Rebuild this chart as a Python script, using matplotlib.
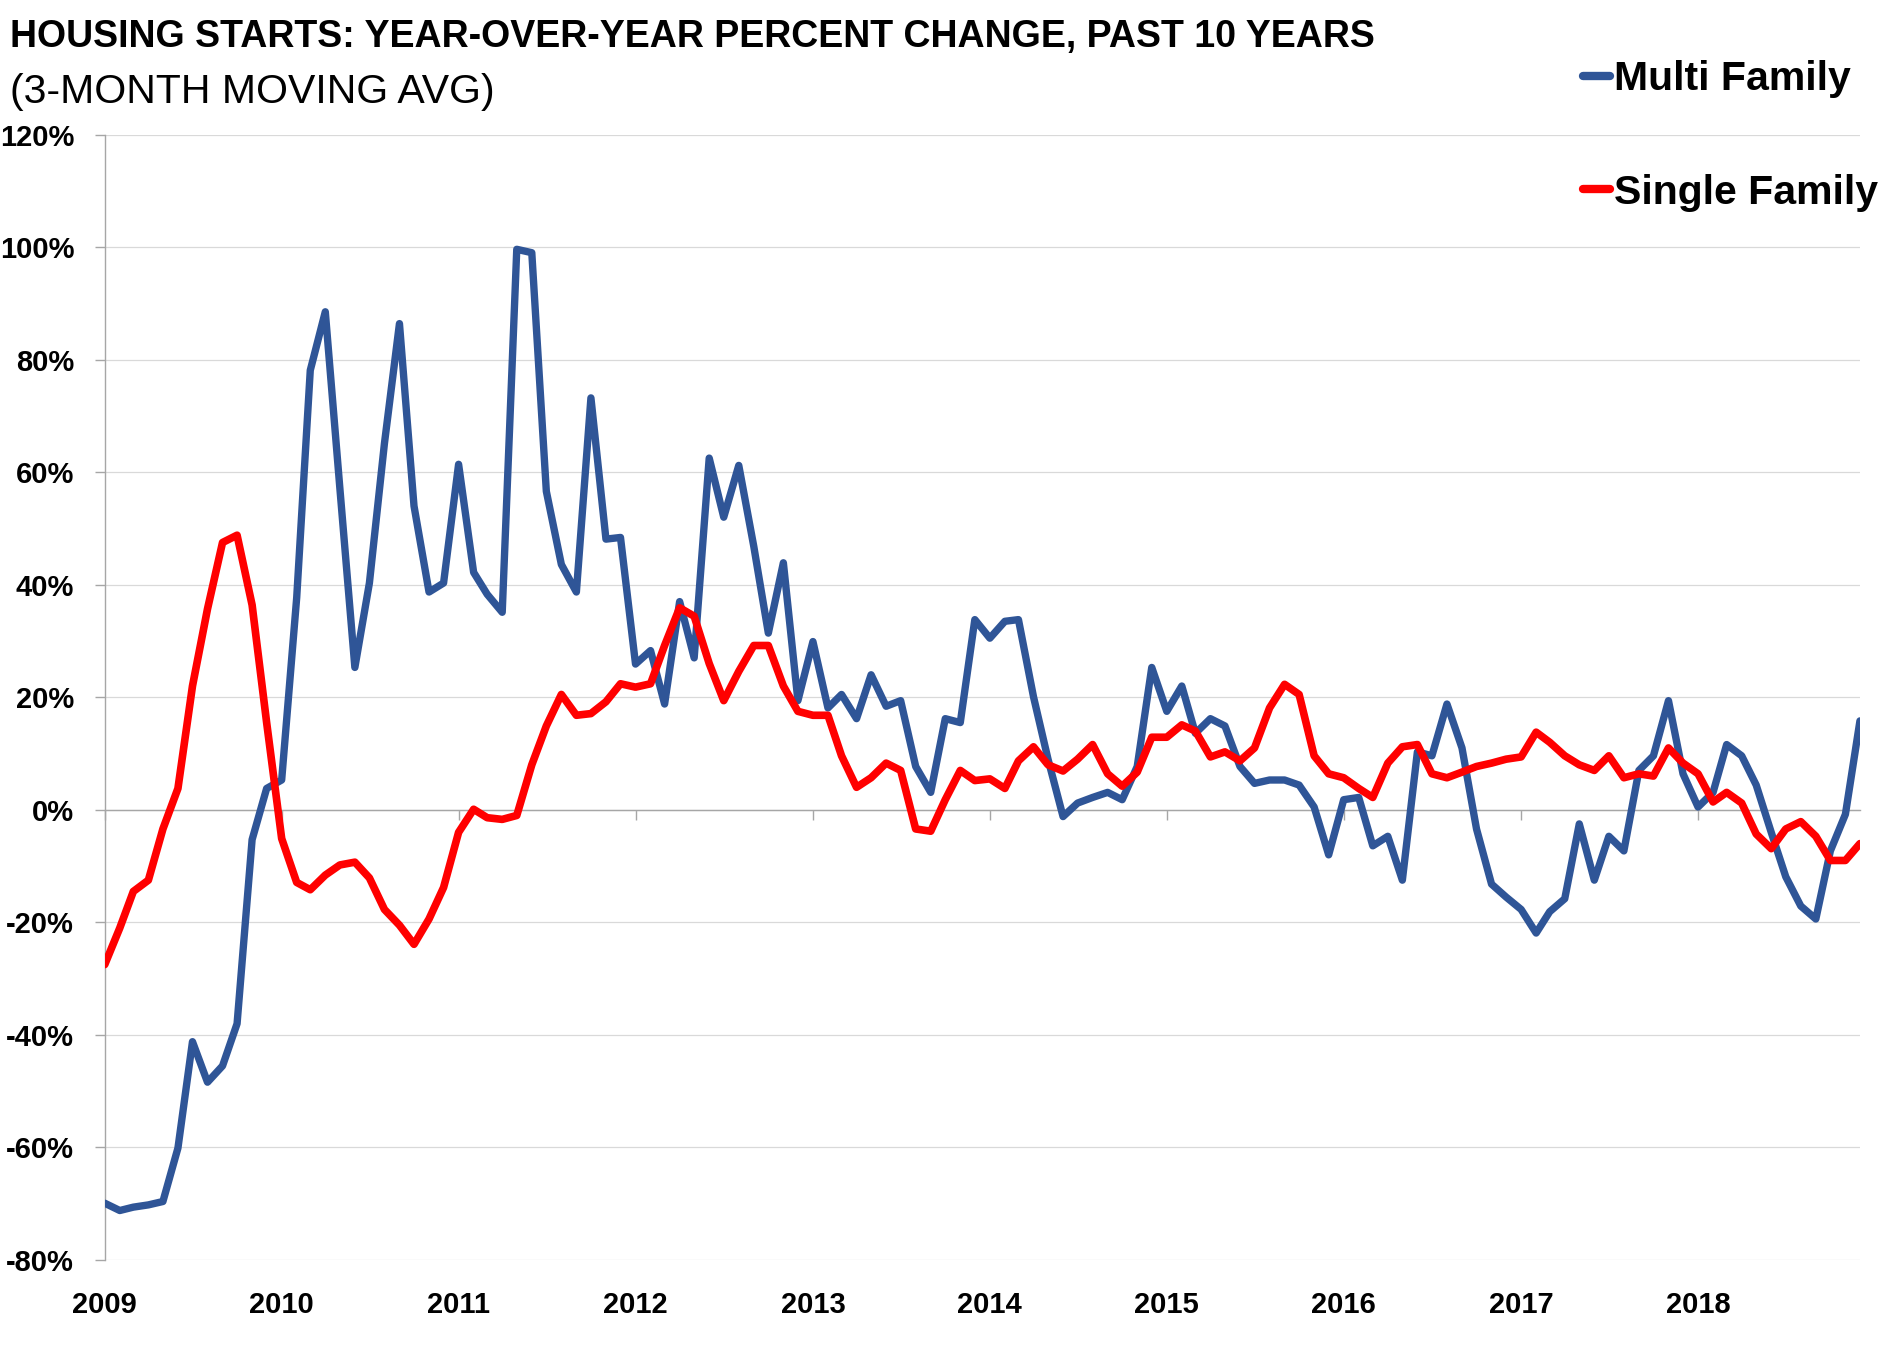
import numpy as np
import pandas as pd
import matplotlib
matplotlib.use('Agg')
import matplotlib.pyplot as plt
from matplotlib.lines import Line2D
from matplotlib.ticker import FuncFormatter, MultipleLocator

plt.rcParams['font.family'] = ['Liberation Sans', 'DejaVu Sans']

# Monthly data, Jan 2009 - Dec 2018 (YoY % change, 3-month moving avg)
months = pd.date_range('2009-01-01', periods=120, freq='MS')

multi_family = [
    -69.9, -71.2, -70.6, -70.2, -69.6, -60.1, -41.2, -48.4, -45.5, -38.0, -5.3, 3.8,
    5.3, 37.7, 78.1, 88.5, 57.2, 25.3, 40.3, 65.1, 86.4, 54.0, 38.7, 40.3,
    61.4, 42.2, 38.3, 35.1, 99.6, 99.0, 56.6, 43.6, 38.7, 73.2, 48.1, 48.4,
    25.9, 28.3, 18.8, 37.0, 27.0, 62.5, 52.0, 61.2, 46.8, 31.4, 43.9, 19.4,
    29.9, 18.1, 20.5, 16.2, 24.0, 18.4, 19.4, 7.7, 3.1, 16.2, 15.5, 33.8,
    30.5, 33.5, 33.8, 20.1, 9.0, -1.2, 1.2, 2.2, 3.1, 1.8, 7.7, 25.3,
    17.5, 22.0, 13.6, 16.2, 14.9, 7.7, 4.7, 5.3, 5.3, 4.4, 0.5, -8.0,
    1.8, 2.2, -6.4, -4.7, -12.5, 10.3, 9.6, 18.8, 11.0, -3.4, -13.2, -15.5,
    -17.7, -21.9, -18.1, -15.8, -2.5, -12.5, -4.7, -7.3, 7.0, 9.6, 19.4, 6.4,
    0.5, 3.1, 11.6, 9.6, 4.4, -4.0, -11.9, -17.1, -19.4, -7.3, -0.8, 15.8,
]

single_family = [
    -27.5, -21.0, -14.5, -12.5, -3.4, 3.8, 22.0, 35.7, 47.5, 48.8, 36.4, 15.5,
    -5.1, -12.9, -14.2, -11.6, -9.8, -9.3, -12.1, -17.7, -20.5, -23.9, -19.4, -13.8,
    -4.0, 0.1, -1.4, -1.7, -1.0, 8.0, 14.9, 20.5, 16.8, 17.1, 19.2, 22.4,
    21.8, 22.4, 29.2, 35.9, 34.4, 26.0, 19.4, 24.6, 29.2, 29.2, 22.0, 17.5,
    16.8, 16.8, 9.6, 4.0, 5.7, 8.3, 7.0, -3.4, -3.8, 1.8, 7.0, 5.2,
    5.5, 3.8, 8.7, 11.2, 8.0, 6.9, 9.0, 11.6, 6.4, 4.2, 6.7, 12.9,
    12.9, 15.1, 14.0, 9.4, 10.3, 8.7, 11.0, 18.1, 22.3, 20.5, 9.6, 6.4,
    5.7, 3.8, 2.2, 8.3, 11.2, 11.6, 6.4, 5.7, 6.7, 7.7, 8.3, 9.0,
    9.4, 13.8, 12.0, 9.6, 8.0, 7.0, 9.6, 5.7, 6.4, 6.0, 11.0, 8.3,
    6.4, 1.4, 3.1, 1.2, -4.3, -6.9, -3.4, -2.1, -4.7, -9.0, -9.0, -6.0,
]

year_ticks = pd.date_range('2009-01-01', '2018-01-01', freq='YS')
year_labels = [str(d.year) for d in year_ticks]

blue = '#2F5597'
red = '#FF0000'
axis_gray = '#A6A6A6'
grid_gray = '#D9D9D9'

fig = plt.figure(figsize=(19.01, 13.60), dpi=100)
ax = fig.add_axes([0.0551, 0.0735, 0.9233, 0.8276])

ax.plot(months, multi_family, color=blue, lw=5.3, solid_joinstyle='round',
        solid_capstyle='round', zorder=3)
ax.plot(months, single_family, color=red, lw=5.5, solid_joinstyle='round',
        solid_capstyle='round', zorder=4)

ax.set_xlim(months[0], months[-1])
ax.set_ylim(-80, 120)
ax.yaxis.set_major_locator(MultipleLocator(20))
ax.yaxis.set_major_formatter(FuncFormatter(lambda v, p: f'{v:.0f}%'))
ax.grid(axis='y', color=grid_gray, lw=0.9, zorder=0)
ax.set_axisbelow(True)

for s in ['top', 'right']:
    ax.spines[s].set_visible(False)
ax.spines['left'].set_color(axis_gray)
ax.spines['left'].set_linewidth(1.0)
ax.spines['bottom'].set_position(('data', 0))
ax.spines['bottom'].set_color(axis_gray)
ax.spines['bottom'].set_linewidth(1.0)
ax.spines['bottom'].set_zorder(1)

ax.set_xticks(year_ticks)
ax.tick_params(axis='x', direction='out', length=7, width=1, color=axis_gray,
               labelbottom=False)
ax.tick_params(axis='y', direction='out', length=7, width=1, color=axis_gray,
               pad=15, labelsize=21)
for lab in ax.get_yticklabels():
    lab.set_fontweight('bold')

# year labels at the bottom of the chart
sec = ax.secondary_xaxis('bottom')
sec.set_xticks(year_ticks, labels=year_labels)
sec.tick_params(length=0, pad=22, labelsize=21)
sec.spines['bottom'].set_visible(False)
for lab in sec.get_xticklabels():
    lab.set_fontweight('bold')

fig.text(10 / 1901, 1 - 37 / 1360,
         'HOUSING STARTS: YEAR-OVER-YEAR PERCENT CHANGE, PAST 10 YEARS',
         fontsize=27, fontweight='bold', ha='left', va='center')
fig.text(10 / 1901, 1 - 92 / 1360, '(3-MONTH MOVING AVG)',
         fontsize=29.5, ha='left', va='center')

handles = [Line2D([], [], color=blue, lw=6, solid_capstyle='round'),
           Line2D([], [], color=red, lw=6, solid_capstyle='round')]
fig.legend(handles, ['Multi Family', 'Single Family'], loc='upper right',
           bbox_to_anchor=(1878 / 1901, 1 - 60 / 1360), frameon=False,
           prop={'size': 29.5, 'weight': 'bold'}, handlelength=0.65,
           handletextpad=0.1, labelspacing=1.85, borderpad=0, borderaxespad=0)

fig.savefig('out.png', dpi=100)
